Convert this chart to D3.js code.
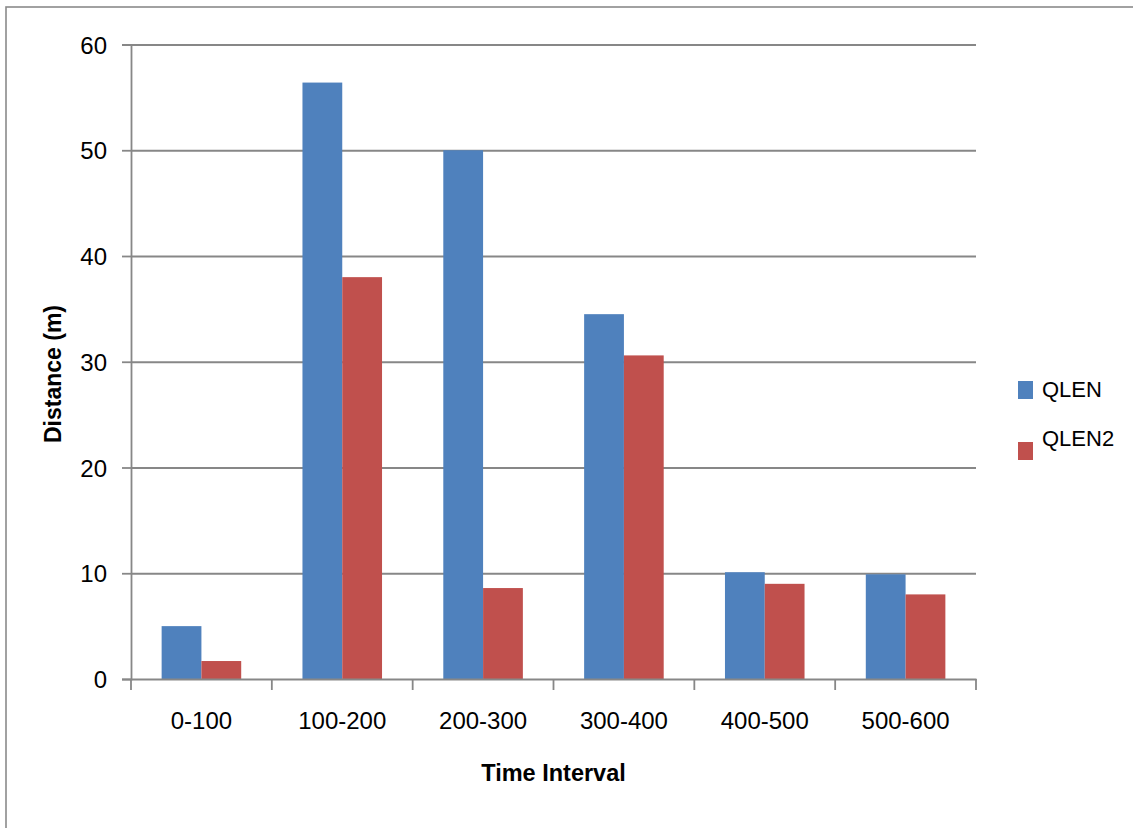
<!DOCTYPE html>
<html>
<head>
<meta charset="utf-8">
<script src="https://cdn.jsdelivr.net/npm/d3@7"></script>
<style>
  html, body { margin: 0; padding: 0; background: #fff; }
  svg { display: block; }
  text { font-family: "Liberation Sans", Arial, sans-serif; fill: #000; }
</style>
</head>
<body>
<svg id="chart" width="1133" height="828"></svg>
<script>
const categories = ["0-100", "100-200", "200-300", "300-400", "400-500", "500-600"];
const seriesNames = ["QLEN", "QLEN2"];
const qlen  = [5.0, 56.4, 50.0, 34.5, 10.1, 9.9];
const qlen2 = [1.7, 38.0, 8.6, 30.6, 9.0, 8.0];
const yTicks = [0, 10, 20, 30, 40, 50, 60];
const colors = ["#4F81BD", "#C0504D"];

const svg = d3.select("#chart");
const plotLeft = 131, plotRight = 976, plotTop = 44.5, plotBottom = 679;
const W = plotRight - plotLeft;
const FONT = '"Liberation Sans", Arial, sans-serif';
const FS = 24;

svg.append("rect").attr("x", 6).attr("y", 7).attr("width", 1140).attr("height", 840)
  .attr("fill", "none").attr("stroke", "#8a8a8a").attr("stroke-width", 1.6);

const x = d3.scaleBand().domain(categories).range([plotLeft, plotRight]).paddingInner(0).paddingOuter(0);
const xs = d3.scaleBand().domain(seriesNames).range([x.bandwidth() * 0.2175, x.bandwidth() * 0.7825]);
const y = d3.scaleLinear().domain([0, 60]).range([plotBottom, plotTop]);

// gridlines
const grid = svg.append("g").attr("transform", `translate(${plotLeft},0)`)
  .call(d3.axisLeft(y).tickValues(yTicks.filter(d => d > 0)).tickSize(-W).tickFormat(""));
grid.select(".domain").remove();
grid.selectAll("line").attr("stroke", "#878787").attr("stroke-width", 1.8);

// bars
const rows = categories.map((c, i) => ({ cat: c, vals: [qlen[i], qlen2[i]] }));
const groups = svg.append("g").selectAll("g").data(rows).join("g")
  .attr("transform", d => `translate(${x(d.cat)},0)`);
groups.selectAll("rect").data(d => d.vals.map((v, j) => ({ s: seriesNames[j], v, j })))
  .join("rect")
  .attr("x", d => xs(d.s))
  .attr("width", xs.bandwidth())
  .attr("y", d => y(d.v))
  .attr("height", d => y(0) - y(d.v))
  .attr("fill", d => colors[d.j]);

// y axis
const yAxis = svg.append("g").attr("transform", `translate(${plotLeft},0)`)
  .call(d3.axisLeft(y).tickValues(yTicks).tickSize(9).tickPadding(15));
yAxis.select(".domain").attr("stroke", "#878787").attr("stroke-width", 1.8);
yAxis.selectAll("line").attr("stroke", "#878787").attr("stroke-width", 1.8);
yAxis.selectAll("text").attr("font-size", FS).attr("dy", "0.36em").style("font-family", FONT).attr("fill", "#000");

// x axis
const xAxis = svg.append("g").attr("transform", `translate(0,${plotBottom})`)
  .call(d3.axisBottom(x).tickSize(0).tickPadding(33));
xAxis.select(".domain").attr("stroke", "#878787").attr("stroke-width", 1.8);
xAxis.selectAll("text").attr("font-size", FS).style("font-family", FONT).attr("fill", "#000");
const bounds = categories.map(c => x(c)).concat([x.range()[1]]);
xAxis.selectAll("line.bound").data(bounds).join("line").attr("class", "bound")
  .attr("x1", d => d).attr("x2", d => d).attr("y1", 0).attr("y2", 11)
  .attr("stroke", "#878787").attr("stroke-width", 1.8);

// axis titles
svg.append("text").attr("x", (plotLeft + plotRight) / 2).attr("y", 781)
  .attr("text-anchor", "middle").attr("font-size", 23.5).attr("font-weight", "bold")
  .text("Time Interval");
svg.append("text").attr("transform", `translate(61,374) rotate(-90)`)
  .attr("text-anchor", "middle").attr("font-size", 23).attr("font-weight", "bold")
  .text("Distance (m)");

// legend
const legend = [
  { name: seriesNames[0], color: colors[0], sqY: 381, textY: 397 },
  { name: seriesNames[1], color: colors[1], sqY: 442, textY: 446 }
];
const lg = svg.append("g").selectAll("g").data(legend).join("g");
lg.append("rect").attr("x", 1018).attr("y", d => d.sqY).attr("width", 15).attr("height", 18)
  .attr("fill", d => d.color);
lg.append("text").attr("x", 1042).attr("y", d => d.textY).attr("font-size", 22).text(d => d.name);
</script>
</body>
</html>
